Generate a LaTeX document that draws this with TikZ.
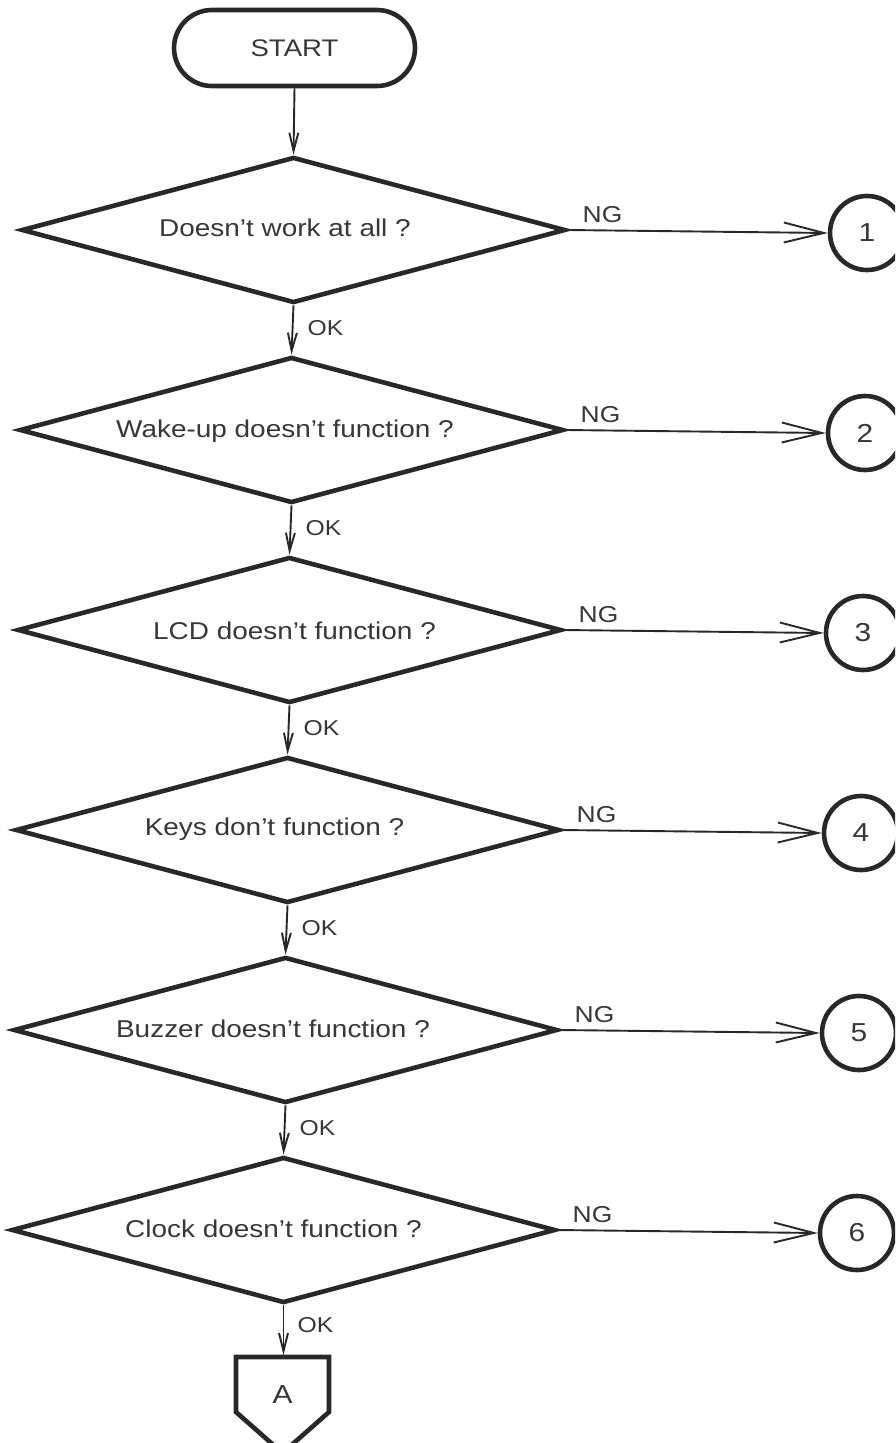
\documentclass[tikz,border=0pt]{standalone}
\usepackage{fontspec}
\setmainfont{Liberation Sans}[FakeStretch=1.15]
\usetikzlibrary{shapes.geometric,arrows.meta}
\definecolor{ink}{RGB}{40,40,40}
\definecolor{print}{RGB}{55,55,55}
\begin{document}
\begin{tikzpicture}[x=1pt,y=-1pt,
  outline/.style={draw=ink,line width=4.6pt},
  decision/.style={outline,diamond,aspect=3.73,inner sep=0pt,
    minimum width=544pt,minimum height=146pt},
  startbox/.style={outline,rectangle,rounded corners=38pt,inner sep=0pt,
    minimum width=241pt,minimum height=76pt,text=print,
    font=\fontsize{24}{28}\selectfont},
  jump/.style={outline,circle,inner sep=0pt,minimum size=74pt,text=print,
    font=\fontsize{26}{30}\selectfont},
  question/.style={inner sep=0pt,text=print,font=\fontsize{24.3}{29}\selectfont},
  tag/.style={inner sep=0pt,text=print},
  oktag/.style={tag,anchor=base west,font=\fontsize{21.5}{25}\selectfont},
  ngtag/.style={tag,anchor=base west,font=\fontsize{23}{27}\selectfont},
  flow/.style={draw=ink,line width=1.9pt},
  down/.style={flow,-{Straight Barb[length=18pt,width=9pt]}},
  across/.style={flow,-{Straight Barb[length=40pt,width=20pt]}}
]
\useasboundingbox (0,0) rectangle (895,1443);
\clip (0,0) rectangle (895,1443);
\fill[white] (0,0) rectangle (895,1443);

% start terminal
\node[startbox] (start) at (294.5,48) {START};

% the six checks, each with its NG exit to a numbered connector
\foreach \i/\cx/\cy/\tx/\ty/\q in {
  1/293.5/230/285/236/{Doesn’t work at all ?},
  2/291.5/430/285/437/{Wake-up doesn’t function ?},
  3/289.5/630/294.5/639/{LCD doesn’t function ?},
  4/287.5/830/274.5/835/{Keys don’t function ?},
  5/285.5/1030/273/1037/{Buzzer doesn’t function ?},
  6/283.5/1230/273.5/1237/{Clock doesn’t function ?}} {
  \node[decision] (d\i) at (\cx,\cy) {};
  \node[question,anchor=base] (q\i) at (\tx,\ty) {\q};
  \node[jump] (c\i) at ({867-2*(\i-1)},{\cy+3}) {\i};
  \draw[across] (d\i.east) -- (c\i.west);
  \node[ngtag] (ng\i) at ({\cx+289},{\cy-8}) {NG};
}

% OK path down the middle
\draw[down] (start.south) -- (d1.north);
\foreach \i/\j/\cx/\cy in {1/2/293.5/230,2/3/291.5/430,3/4/289.5/630,
  4/5/287.5/830,5/6/285.5/1030} {
  \draw[down] (d\i.south) -- (d\j.north);
  \node[oktag] (ok\i) at ({\cx+14},{\cy+105}) {OK};
}

% off-page connector A
\coordinate (atop) at (283.5,1355);
\draw[outline,line join=miter] (236,1412) -- (236,1357) -- (329,1357)
  -- (329,1412) -- (282.5,1453) -- cycle;
\node[question,anchor=base,font=\fontsize{26}{30}\selectfont] (A) at (282.5,1403) {A};
\draw[down] (d6.south) -- (atop);
\node[oktag] (ok6) at (297.5,1332) {OK};
\end{tikzpicture}
\end{document}
